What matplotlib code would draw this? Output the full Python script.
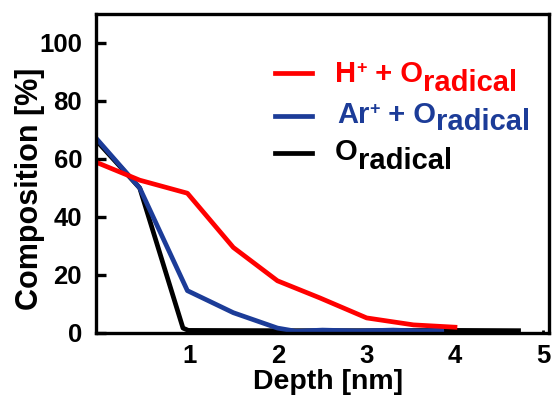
import numpy as np
import matplotlib
matplotlib.use('Agg')
import matplotlib.pyplot as plt
from matplotlib.lines import Line2D

plt.rcParams['font.family'] = 'Liberation Sans'
plt.rcParams['font.weight'] = 'bold'

# depth profiles (depth in nm, composition in %)
depth_h = [-0.065, 0.43, 0.97, 1.49, 1.99, 2.47, 3.0, 3.53, 4.0]
comp_h = [58.9, 52.7, 48.2, 29.5, 18.0, 12.1, 5.2, 2.8, 2.0]

depth_ar = [-0.065, 0.43, 0.97, 1.49, 1.99, 2.2, 2.5, 2.9, 3.3, 3.6, 3.85]
comp_ar = [67.2, 50.0, 14.6, 7.0, 1.7, 0.6, 1.0, 0.7, 1.0, 0.7, 1.0]

depth_o = [-0.065, 0.43, 0.92, 0.98, 2.0, 3.0, 4.0, 4.72]
comp_o = [66.5, 50.0, 1.7, 0.9, 0.8, 0.8, 0.9, 0.8]

xticks = [1, 2, 3, 4, 5]
yticks = [0, 20, 40, 60, 80, 100]

red = '#ff0000'
blue = '#1c3c98'

W, H = 558, 397
fig = plt.figure(figsize=(W/100, H/100), dpi=100)
ax = fig.add_axes([96/W, 1-333/H, (549-96)/W, (333-14)/H])

ax.plot(depth_o, comp_o, color='black', lw=3.4)
ax.plot(depth_ar, comp_ar, color=blue, lw=3.4)
ax.plot(depth_h, comp_h, color=red, lw=3.4)

ax.set_xlim(-0.065, 5.065)
ax.set_ylim(0, 110)
ax.set_xticks(xticks)
ax.set_yticks(yticks)
for s in ax.spines.values():
    s.set_linewidth(2.4)
ax.tick_params(axis='y', direction='in', length=7, width=2.4, pad=10, labelsize=18.5)
ax.tick_params(axis='x', direction='in', length=2, width=2, pad=8, labelsize=18.5)

ax.set_xlabel('Depth [nm]', fontsize=20.5, fontweight='bold')
ax.set_ylabel('Composition [%]', fontsize=22, fontweight='bold')
ax.xaxis.set_label_coords(0.512, -0.112)
ax.yaxis.set_label_coords(-0.112, 0.451)

renderer = fig.canvas.get_renderer()


def rich_text(x, y, parts, color):
    # parts: (string, fontsize, shift in px, upward positive)
    for s, size, dy in parts:
        t = fig.text(x/W, 1-(y-dy)/H, s, fontsize=size, color=color,
                     fontweight='bold', va='baseline', ha='left')
        x = t.get_window_extent(renderer).x1


def key_line(y, color):
    fig.add_artist(Line2D([275/W, 312/W], [1-y/H, 1-y/H], color=color,
                          lw=3.4, transform=fig.transFigure))


key_line(73, red)
rich_text(335, 82, [('H', 21, 0), ('+', 13, 9), (' + O', 21, 0), ('radical', 21, -9)], red)
key_line(116, blue)
rich_text(337, 123, [('Ar', 21, 0), ('+', 13, 9), (' + O', 21, 0), ('radical', 21, -7)], blue)
key_line(153, 'black')
rich_text(335, 160, [('O', 21, 0), ('radical', 21, -9)], 'black')

fig.savefig('out.png', dpi=100)
